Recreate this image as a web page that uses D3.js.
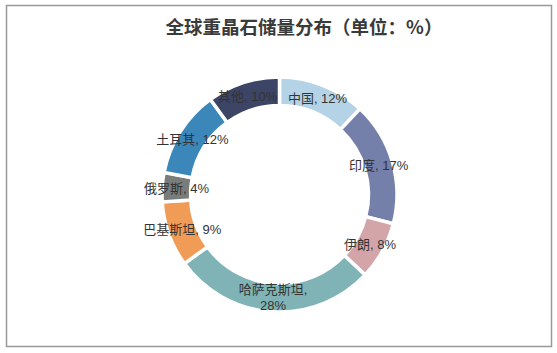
<!DOCTYPE html>
<html>
<head>
<meta charset="utf-8">
<script src="https://cdn.jsdelivr.net/npm/d3@7"></script>
<style>
  body { margin: 0; background: #fff; }
</style>
</head>
<body>
<div id="container"></div>
<script>
/* DATA */
const names = ["中国", "印度", "伊朗", "哈萨克斯坦", "巴基斯坦", "俄罗斯", "土耳其", "其他"];
const shares = [12, 17, 8, 28, 9, 4, 12, 10];
const colors = ["#b5d3e7", "#7580aa", "#d4a5a8", "#7fb3b5", "#f19c56", "#787d7c", "#3b87b9", "#3d4566"];
const title = "全球重晶石储量分布（单位：%）";

const width = 557,
  height = 353;
const cx = 279.5, cy = 194.5;
const outerR = 117.5, innerR = 89;

const data = names.map((n, i) => ({name: n, value: shares[i], color: colors[i]}));

const svg = d3.select("#container")
  .append("svg")
  .attr("width", width)
  .attr("height", height)
  .attr("font-family", "'Noto Sans CJK SC', sans-serif");

// frame
svg.append("rect")
  .attr("x", 6.5)
  .attr("y", 5.5)
  .attr("width", 545)
  .attr("height", 341)
  .attr("fill", "#fff")
  .attr("stroke", "#9a9a9a")
  .attr("stroke-width", 1.5);

svg.append("text")
  .attr("x", 304)
  .attr("y", 34)
  .attr("text-anchor", "middle")
  .attr("font-size", 18.5)
  .attr("font-weight", "bold")
  .attr("fill", "#3a3a3a")
  .text(title);

const pie = d3.pie()
  .value(d => d.value)
  .sort(null);

const arc = d3.arc()
  .innerRadius(innerR)
  .outerRadius(outerR);

const arcs = pie(data);

const g = svg.append("g")
  .attr("transform", `translate(${cx},${cy})`);

g.selectAll("path")
  .data(arcs)
  .join("path")
  .attr("d", arc)
  .attr("fill", d => d.data.color)
  .attr("stroke", "#fff")
  .attr("stroke-width", 3.5);

// labels sit on the ring centroid, long names wrap to two lines
const labels = g.selectAll("text.lbl")
  .data(arcs)
  .join("text")
  .attr("class", "lbl")
  .attr("text-anchor", "middle")
  .attr("font-family", "'Liberation Sans', 'Noto Sans CJK SC', sans-serif")
  .attr("font-size", 13)
  .attr("fill", "#333")
  .attr("transform", d => `translate(${arc.centroid(d)})`);

labels.each(function(d) {
  const t = d3.select(this);
  const pct = d.data.value + "%";
  const lines = d.data.name.length >= 5 ? [d.data.name + ",", pct] : [d.data.name + ", " + pct];
  const lh = 16;
  lines.forEach((line, i) => {
    t.append("tspan")
      .attr("x", 0)
      .attr("y", (i - (lines.length - 1) / 2) * lh)
      .attr("dy", "0.35em")
      .text(line);
  });
});
</script>
</body>
</html>
